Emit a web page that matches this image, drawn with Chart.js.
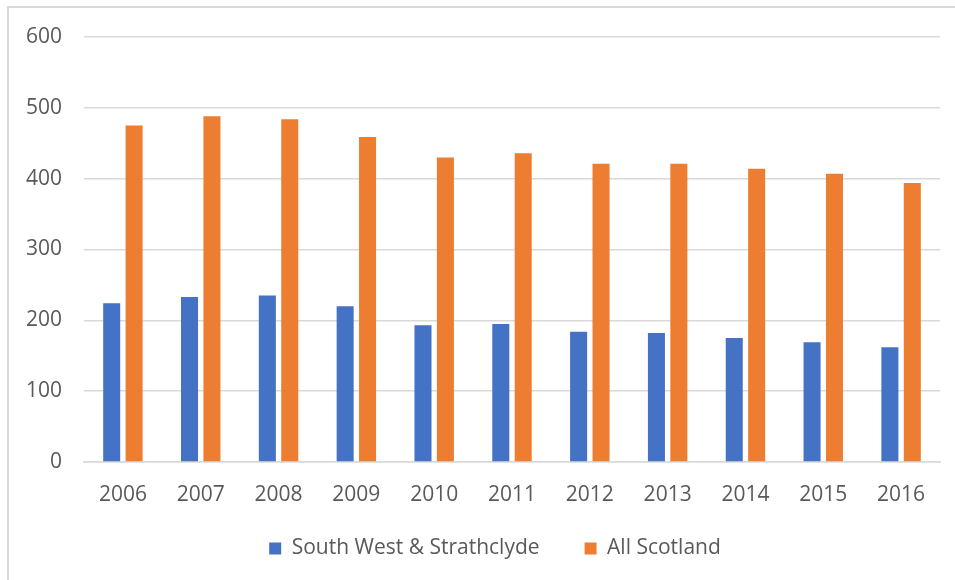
<!DOCTYPE html>
<html>
<head>
<meta charset="utf-8">
<script src="https://cdn.jsdelivr.net/npm/chart.js@4.4.1/dist/chart.umd.min.js"></script>
<style>
  html, body { margin: 0; padding: 0; background: #fff; overflow: hidden; }
  #frame { position: absolute; left: 7px; top: 6px; width: 1000px; height: 700px; border: 2px solid #d9d9d9; }
  #wrap { position: absolute; left: 0; top: 0; width: 955px; height: 580px; }
</style>
</head>
<body>
<div id="frame"></div>
<div id="wrap"><canvas id="chart1" width="955" height="580"></canvas></div>
<script>
const years = ['2006', '2007', '2008', '2009', '2010', '2011', '2012', '2013', '2014', '2015', '2016'];
const southWest = [224, 233, 235, 220, 193, 195, 184, 182, 175, 169, 162];
const allScotland = [475, 488, 484, 459, 430, 436, 421, 421, 414, 407, 394];
const yTicks = [0, 100, 200, 300, 400, 500, 600];

const grey = '#595959';
const gridGrey = '#d9d9d9';
const font = { family: "'Open Sans', sans-serif", size: 21 };

// fixed legend block height; after layout let the x axis box run down
// under the legend and centre the legend row a little to the right
const legendPlace = {
  id: 'legendPlace',
  beforeInit(chart) {
    const fit = chart.legend.fit;
    chart.legend.fit = function () {
      fit.call(this);
      this.height = 87;
    };
  },
  afterLayout(chart) {
    const x = chart.scales.x;
    x.bottom += 40;
    x.height += 40;
    const lg = chart.legend;
    lg.left += 25;
    lg.right += 25;
  },
};

const ctx = document.getElementById('chart1').getContext('2d');
const myChart = new Chart(ctx, {
  type: 'bar',
  data: {
    labels: years,
    datasets: [
      {
        label: 'South West & Strathclyde',
        data: southWest,
        backgroundColor: '#4472c4',
        categoryPercentage: 0.576,
        barPercentage: 0.76,
      },
      {
        label: 'All Scotland',
        data: allScotland,
        backgroundColor: '#ed7d31',
        categoryPercentage: 0.576,
        barPercentage: 0.76,
      },
    ],
  },
  options: {
    responsive: false,
    animation: false,
    layout: { padding: { left: 0, right: 15, top: 37, bottom: 0 } },
    scales: {
      x: {
        grid: { display: false, drawTicks: false },
        border: { color: gridGrey, width: 1.5 },
        ticks: { color: grey, font: font, padding: 20 },
        afterFit(scale) { scale.height = 31; },
      },
      y: {
        min: 0,
        max: 600,
        afterBuildTicks(scale) { scale.ticks = yTicks.map(v => ({ value: v })); },
        grid: { color: gridGrey, lineWidth: 1.5, drawTicks: false },
        border: { display: false },
        ticks: { color: grey, font: font, padding: 22 },
        afterFit(scale) { scale.width = 84; },
      },
    },
    plugins: {
      legend: {
        position: 'bottom',
        labels: {
          color: grey,
          font: font,
          boxWidth: 12,
          boxHeight: 12,
          padding: 45,
        },
      },
      tooltip: { enabled: false },
    },
  },
  plugins: [legendPlace],
});
</script>
</body>
</html>
